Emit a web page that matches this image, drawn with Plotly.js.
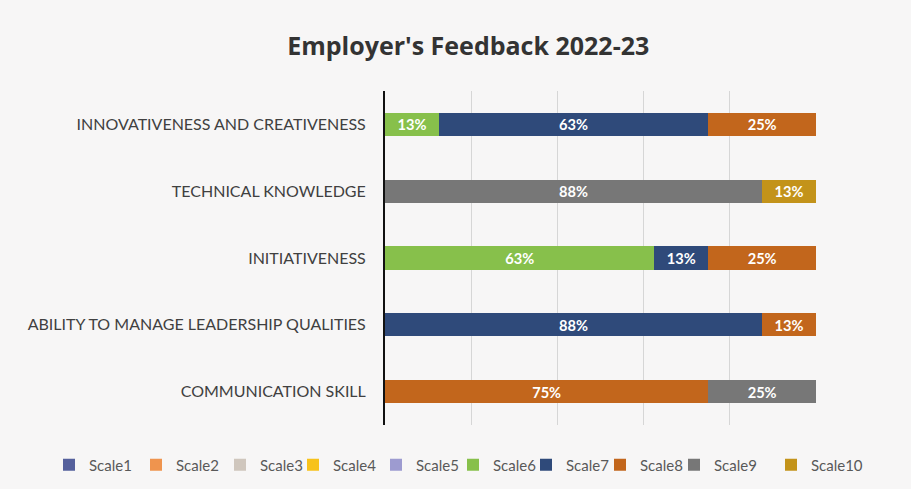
<!DOCTYPE html>
<html>
<head>
<meta charset="utf-8">
<script src="https://cdn.plot.ly/plotly-3.0.1.min.js"></script>
<style>html,body{margin:0;padding:0;background:#f7f6f6;}#chart{width:911px;height:489px;}</style>
</head>
<body>
<div id="chart"></div>
<script>
var categories = ['INNOVATIVENESS AND CREATIVENESS','TECHNICAL KNOWLEDGE','INITIATIVENESS','ABILITY TO MANAGE LEADERSHIP QUALITIES','COMMUNICATION SKILL'];
var seriesNames = ['Scale1','Scale2','Scale3','Scale4','Scale5','Scale6','Scale7','Scale8','Scale9','Scale10'];
var scale1 = [0, 0, 0, 0, 0];
var scale2 = [0, 0, 0, 0, 0];
var scale3 = [0, 0, 0, 0, 0];
var scale4 = [0, 0, 0, 0, 0];
var scale5 = [0, 0, 0, 0, 0];
var scale6 = [12.5, 0, 62.5, 0, 0];
var scale7 = [62.5, 0, 12.5, 87.5, 0];
var scale8 = [25, 0, 25, 12.5, 75];
var scale9 = [0, 87.5, 0, 0, 25];
var scale10 = [0, 12.5, 0, 0, 0];
var seriesValues = [scale1, scale2, scale3, scale4, scale5, scale6, scale7, scale8, scale9, scale10];
var colors = ['#55609c','#ef944e','#cfc6bd','#f7c21b','#9d9bd0','#87c04b','#2f4a7a','#c2661c','#777777','#c3931a'];
// legend entry positions (px from left) of each legend swatch
var legendSwatchX = [73, 160, 244, 317, 400, 477, 550, 624, 698, 795];

function legendKey(i){ return i === 0 ? 'legend' : 'legend' + (i + 1); }

var traces = seriesNames.map(function(name, i){
  var vals = seriesValues[i];
  return {
    type: 'bar',
    orientation: 'h',
    name: name,
    legend: legendKey(i),
    y: categories,
    x: vals,
    text: vals.map(function(v){ return v > 0 ? Math.round(v) + '%' : ''; }),
    textposition: 'inside',
    insidetextanchor: 'middle',
    textfont: {family: 'Lato, sans-serif', size: 16, color: '#ffffff', weight: 'bold'},
    marker: {color: colors[i], line: {width: 0}},
    hoverinfo: 'skip'
  };
});

var layout = {
  width: 911, height: 489,
  barmode: 'stack',
  bargap: 0.65,
  paper_bgcolor: '#f7f6f6',
  plot_bgcolor: '#f7f6f6',
  margin: {l: 385, r: 95, t: 91, b: 64},
  font: {family: 'Lato, sans-serif', color: '#404040'},
  title: {
    text: "Employer's Feedback 2022-23",
    font: {family: '"Open Sans", sans-serif', size: 25, color: '#333333', weight: 'bold'},
    xref: 'container', x: 0.514, xanchor: 'center',
    yref: 'container', y: 0.905, yanchor: 'middle'
  },
  xaxis: {
    range: [0, 100], dtick: 20, showticklabels: false,
    showgrid: true, gridcolor: '#d6d6d6', gridwidth: 1,
    zeroline: false, showline: false, fixedrange: true
  },
  yaxis: {
    autorange: 'reversed', showline: true, linecolor: '#111111', linewidth: 2,
    ticks: '', ticklabelstandoff: 14, showgrid: false,
    tickfont: {family: 'Lato, sans-serif', size: 16, color: '#404040'}
  },
  showlegend: true
};

legendSwatchX.forEach(function(px, i){
  layout[legendKey(i)] = {
    orientation: 'h',
    xref: 'container', x: (px - 24) / 911, xanchor: 'left',
    yref: 'container', y: 1 - 465 / 489, yanchor: 'middle',
    font: {family: 'Lato, sans-serif', size: 15, color: '#595959'},
    itemwidth: 30, bgcolor: 'rgba(0,0,0,0)'
  };
});

Plotly.newPlot('chart', traces, layout, {displayModeBar: false, staticPlot: true});
</script>
</body>
</html>
